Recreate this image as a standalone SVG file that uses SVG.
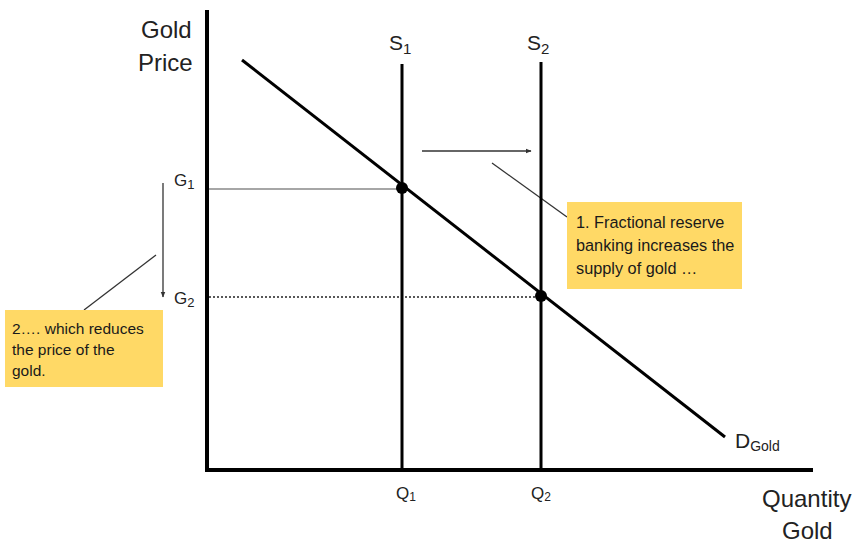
<svg xmlns="http://www.w3.org/2000/svg" width="859" height="544" viewBox="0 0 859 544">
<defs>
<marker id="ah" viewBox="0 0 10 10" refX="9" refY="5" markerWidth="6" markerHeight="6" orient="auto" markerUnits="userSpaceOnUse"><path d="M0,1 L10,5 L0,9 z" fill="#333"/></marker>
</defs>
<style>
text{font-family:"Liberation Sans",Arial,sans-serif;fill:#222}
.big{font-size:24px}
.mid{font-size:21px}
.sm{font-size:17px}
.note{font-size:16.3px;fill:#1a1a1a}
.note2{font-size:15.5px;fill:#1a1a1a}
.axis{stroke:#000;stroke-width:4;fill:none}
.curve{stroke:#000;stroke-width:3;fill:none}
.thin{stroke:#333;stroke-width:1.3;fill:none}
.box{fill:#FFD966}
</style>
<rect width="859" height="544" fill="#fff"/>
<g id="axes">
<line class="axis" x1="207" y1="10" x2="207" y2="472"/>
<line class="axis" x1="205" y1="470" x2="813" y2="470"/>
<text class="big" x="141" y="38">Gold</text>
<text class="big" x="138" y="71">Price</text>
<text class="big" x="762" y="507">Quantity</text>
<text class="big" x="782" y="539">Gold</text>
</g>
<g id="connectors">
<line x1="209" y1="189" x2="402" y2="189" stroke="#888" stroke-width="1.5"/>
<line x1="209" y1="297" x2="541" y2="297" stroke="#222" stroke-width="1.5" stroke-dasharray="2,2"/>
<line class="thin" x1="163" y1="183" x2="163" y2="297" marker-end="url(#ah)"/>
<line class="thin" x1="422" y1="151" x2="531" y2="151" marker-end="url(#ah)"/>
<line class="thin" x1="492" y1="163" x2="567" y2="217"/>
<line class="thin" x1="156" y1="255" x2="84" y2="310"/>
</g>
<g id="demand">
<line class="curve" x1="242" y1="60" x2="725" y2="437"/>
<text class="mid" x="735" y="448">D<tspan font-size="14" dy="3">Gold</tspan></text>
</g>
<g id="s1">
<line class="curve" x1="402" y1="64" x2="402" y2="470"/>
<text class="mid" x="389" y="50">S<tspan font-size="15" dy="4">1</tspan></text>
<text class="sm" x="396" y="499">Q<tspan font-size="12" dy="2">1</tspan></text>
</g>
<g id="s2">
<line class="curve" x1="541" y1="62" x2="541" y2="470"/>
<text class="mid" x="527" y="50">S<tspan font-size="15" dy="4">2</tspan></text>
<text class="sm" x="531" y="499">Q<tspan font-size="12" dy="2">2</tspan></text>
</g>
<g id="g1">
<circle cx="402" cy="188" r="6" fill="#000"/>
<text class="sm" x="174" y="186">G<tspan font-size="13" dy="3">1</tspan></text>
</g>
<g id="g2">
<circle cx="541" cy="296" r="6" fill="#000"/>
<text class="sm" x="174" y="304">G<tspan font-size="13" dy="3">2</tspan></text>
</g>
<g id="note1">
<rect class="box" x="567" y="202" width="175" height="87"/>
<text class="note" x="576" y="228">1. Fractional reserve</text>
<text class="note" x="576" y="251">banking increases the</text>
<text class="note" x="576" y="274">supply of gold …</text>
</g>
<g id="note2">
<rect class="box" x="5" y="310" width="158" height="77"/>
<text class="note2" x="12" y="334">2…. which reduces</text>
<text class="note2" x="12" y="355">the price of the</text>
<text class="note2" x="12" y="376">gold.</text>
</g>
</svg>
